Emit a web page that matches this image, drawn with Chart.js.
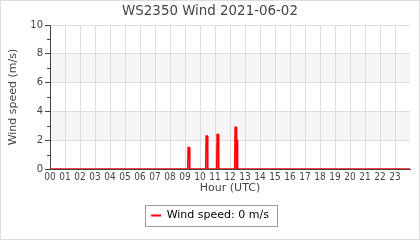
<!DOCTYPE html>
<html>
<head>
<meta charset="utf-8">
<script src="https://cdn.jsdelivr.net/npm/chart.js@4"></script>
<style>
  html, body { margin: 0; padding: 0; background: #fff; }
  #wrap { position: relative; width: 420px; height: 240px; }
</style>
</head>
<body>
<div id="wrap"><canvas id="c" width="420" height="240"></canvas></div>
<script>
// hour of day (UTC) and wind speed (m/s)
const hours = [0, 9.18, 9.21, 9.29, 9.32, 10.38, 10.41, 10.49, 10.52, 11.11, 11.14, 11.22, 11.25,
               12.31, 12.34, 12.41, 12.43, 12.46, 12.49, 12.51, 24];
const speeds = [0, 0, 1.5, 1.5, 0, 0, 2.3, 2.3, 0, 0, 2.4, 2.4, 0,
                0, 2.9, 2.9, 0, 2.0, 2.0, 0, 0];
const hourLabels = ['00','01','02','03','04','05','06','07','08','09','10','11',
                    '12','13','14','15','16','17','18','19','20','21','22','23'];
const bands = [[2, 4], [6, 8]];
const currentSpeed = 0;

Chart.defaults.font.family = "'DejaVu Sans', sans-serif";
Chart.defaults.color = '#444';

// shaded bands, minor y ticks, legend frame and outer frame
const decor = {
    id: 'decor',
    afterLayout(chart) {
        // centre title and legend on the whole canvas, not on the padded area
        chart.legend.left += 5;
        chart.legend.right += 5;
        chart.titleBlock.left += 5;
        chart.titleBlock.right += 5;
    },
    beforeDraw(chart) {
        const { ctx, chartArea: a, scales: { y } } = chart;
        ctx.save();
        ctx.fillStyle = '#f5f5f5';
        bands.forEach(([lo, hi]) => {
            const top = y.getPixelForValue(hi);
            ctx.fillRect(a.left, top, a.right - a.left, y.getPixelForValue(lo) - top);
        });
        ctx.restore();
    },
    afterDraw(chart) {
        const { ctx, chartArea: a, scales: { y } } = chart;
        ctx.save();
        ctx.strokeStyle = '#444';
        ctx.lineWidth = 1;
        for (let v = 1; v < 10; v += 2) {
            const py = Math.round(y.getPixelForValue(v)) + 0.5;
            ctx.beginPath();
            ctx.moveTo(a.left - 3, py);
            ctx.lineTo(a.left, py);
            ctx.stroke();
        }
        const hb = chart.legend.legendHitBoxes[0];
        if (hb) {
            ctx.strokeStyle = '#999';
            ctx.strokeRect(Math.round(hb.left) - 5.5, Math.round(hb.top) - 4.5, Math.round(hb.width) + 14, Math.round(hb.height) + 10);
        }
        ctx.strokeStyle = '#ddd';
        ctx.strokeRect(0.5, 0.5, chart.width - 1, chart.height - 1);
        ctx.restore();
    }
};

new Chart(document.getElementById('c'), {
    type: 'line',
    data: {
        datasets: [{
            label: 'Wind speed: ' + currentSpeed + ' m/s',
            data: hours.map((h, i) => ({ x: h, y: speeds[i] })),
            borderColor: '#ff0000',
            backgroundColor: 'rgba(255, 0, 0, 0.55)',
            borderWidth: 1.5,
            fill: 'origin',
            pointRadius: 0,
            tension: 0
        }]
    },
    options: {
        responsive: false,
        animation: false,
        layout: { padding: { left: 0, right: 10, top: 0, bottom: 9 } },
        plugins: {
            title: {
                display: true,
                text: 'WS2350 Wind 2021-06-02',
                color: '#444',
                font: { size: 13.4, weight: 'normal' },
                padding: { top: 3, bottom: 6 }
            },
            legend: {
                position: 'bottom',
                labels: {
                    color: '#222',
                    font: { size: 11 },
                    boxWidth: 10,
                    boxHeight: 2,
                    padding: 12,
                    generateLabels: (chart) => chart.data.datasets.map((ds, i) => ({
                        text: ds.label,
                        fillStyle: '#ff0000',
                        strokeStyle: '#ff0000',
                        lineWidth: 0,
                        datasetIndex: i
                    }))
                }
            },
            tooltip: { enabled: false }
        },
        scales: {
            x: {
                type: 'linear',
                min: 0,
                max: 24,
                z: 1,
                afterFit: (s) => { s.height = 29; },
                afterBuildTicks: (s) => {
                    s.ticks = hourLabels.map((_, i) => ({ value: i })).concat([{ value: 24 }]);
                },
                ticks: {
                    stepSize: 1,
                    autoSkip: false,
                    maxRotation: 0,
                    padding: 2,
                    color: '#444',
                    font: { size: 10, family: "'Liberation Sans Narrow', 'DejaVu Sans Condensed', 'DejaVu Sans'" },
                    callback: (v) => hourLabels[v] ?? ''
                },
                grid: {
                    color: (c) => (c.tick && c.tick.value === 24) ? 'rgba(0,0,0,0)' : '#ddd',
                    drawTicks: false
                },
                border: { color: '#444', width: 1 },
                title: {
                    display: true,
                    text: 'Hour (UTC)',
                    color: '#444',
                    font: { size: 11 },
                    padding: { top: 0, bottom: 3 }
                }
            },
            y: {
                min: 0,
                max: 10,
                afterFit: (s) => { s.width = 50; },
                ticks: {
                    stepSize: 2,
                    padding: 2,
                    color: '#444',
                    font: { size: 10 }
                },
                grid: {
                    color: '#ddd',
                    tickColor: '#444',
                    tickLength: 5
                },
                border: { color: '#444', width: 1 },
                title: {
                    display: true,
                    text: 'Wind speed (m/s)',
                    color: '#444',
                    font: { size: 11 },
                    padding: { top: 7, bottom: 0 }
                }
            }
        }
    },
    plugins: [decor]
});
</script>
</body>
</html>
